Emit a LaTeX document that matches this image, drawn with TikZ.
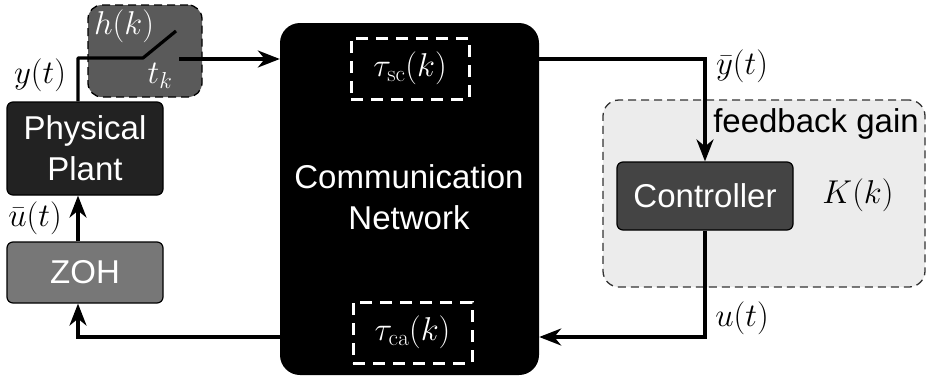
\RequirePackage{fix-cm}
\documentclass[tikz,border=0pt]{standalone}
\usepackage[no-math]{fontspec}
\newfontfamily\blockfont{Liberation Sans}
\usetikzlibrary{arrows.meta}
\definecolor{plantgray}{HTML}{222222}
\definecolor{zohgray}{HTML}{777777}
\definecolor{samplegray}{HTML}{5A5A5A}
\definecolor{ctrlgray}{HTML}{444444}
\definecolor{regiongray}{HTML}{ECECEC}
\begin{document}
\begin{tikzpicture}[x=1pt,y=-1pt,
  wire/.style={line width=3.2pt},
  arr/.style={wire,-{Stealth[length=22pt,width=17pt,inset=7pt]}},
  blk/.style={draw=black,line width=1.2pt,rounded corners=6pt,text=white,align=center,inner sep=0pt,
    font=\blockfont\fontsize{33}{41}\selectfont},
  lbl/.style={font=\fontsize{33}{38}\selectfont,inner sep=0pt},
  thindash/.style={dash pattern=on 8pt off 5pt},
  delaybox/.style={draw=white,line width=3pt,dash pattern=on 12pt off 8pt,text=white,inner sep=0pt,
    font=\fontsize{33}{38}\selectfont}]
\useasboundingbox (0,0) rectangle (929,378);

% feedback gain region
\node[draw=black!80,fill=regiongray,thindash,line width=1.3pt,rounded corners=16pt,
  minimum width=322pt,minimum height=187pt] (fb) at (764,193.5) {};
\node[font=\blockfont\fontsize{33}{38}\selectfont,anchor=center] (fbtxt) at (816,124) {feedback gain};
\node[lbl] (Kk) at (858,195) {$K(k)$};

% blocks
\node[blk,fill=plantgray,minimum width=156pt,minimum height=93pt] (plant) at (85,148.5) {Physical\\Plant};
\node[blk,fill=zohgray,minimum width=156pt,minimum height=61pt] (zoh) at (85,272.5) {ZOH};
\node[draw=black,thindash,line width=1.3pt,fill=samplegray,rounded corners=14pt,
  minimum width=114pt,minimum height=92pt] (samp) at (145,51) {};
\node[fill=black,rounded corners=20pt,minimum width=259pt,minimum height=352pt] (net) at (409.5,199) {};
\node[blk,draw=none,fill=none] (nettxt) at (409,197) {Communication\\Network};
\node[delaybox,minimum width=118pt,minimum height=61pt] (tsc) at (410,68.5) {$\tau_{\mathrm{sc}}(k)$};
\node[delaybox,minimum width=119pt,minimum height=61pt] (tca) at (412.5,332.5) {$\tau_{\mathrm{ca}}(k)$};
\node[blk,fill=ctrlgray,minimum width=176pt,minimum height=68pt] (ctrl) at (705,196) {Controller};

% sampler labels
\node[lbl,text=white] (hk) at (124,26) {$h(k)$};
\node[lbl,text=white] (tk) at (160,76) {$t_k$};

% signal labels
\node[lbl] (yt) at (40,75) {$y(t)$};
\node[lbl] (ubar) at (35,218) {$\bar u(t)$};
\node[lbl] (ybar) at (742,66) {$\bar y(t)$};
\node[lbl] (ut) at (742,318) {$u(t)$};

% routing points
\coordinate (yin) at (78,58);
\coordinate (swA) at (143,58);
\coordinate (swB) at (176,31);
\coordinate (swC) at (179,59);
\coordinate (yb) at (705,59);
\coordinate (ub) at (705,337);
\coordinate (zb) at (78,337);

% connectors
\draw[wire,line join=round] (plant.north -| yin) -- (yin) -- (swA) -- (swB);
\draw[arr] (swC) -- (swC -| net.west);
\draw[arr] (yb -| net.east) -- (yb) -- (ctrl.north);
\draw[arr] (ctrl.south) -- (ub) -- (ub -| net.east);
\draw[arr] (zb -| net.west) -- (zb) -- (zoh.south -| zb);
\draw[arr] (zoh.north -| zb) -- (plant.south -| zb);
\end{tikzpicture}
\end{document}
